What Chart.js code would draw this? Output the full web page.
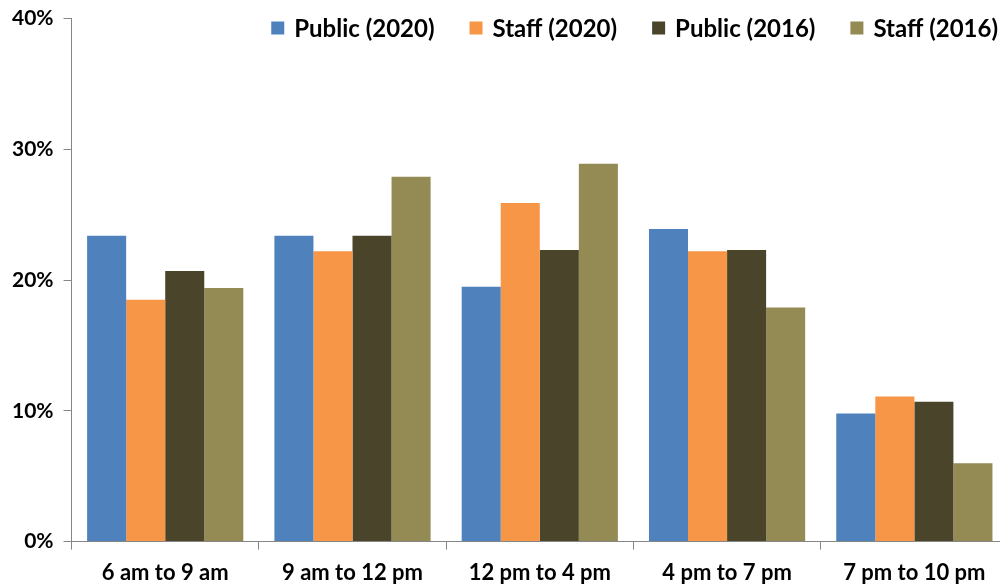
<!DOCTYPE html>
<html>
<head>
<meta charset="utf-8">
<script src="https://cdn.jsdelivr.net/npm/chart.js@4"></script>
<style>
  html, body { margin: 0; padding: 0; background: #fff; overflow: hidden; }
  #wrap { width: 1010px; height: 593px; margin-top: -4px; }
</style>
</head>
<body>
<div id="wrap"><canvas id="timeChart"></canvas></div>
<script>
// Time slots
const slots = ['6 am to 9 am', '9 am to 12 pm', '12 pm to 4 pm', '4 pm to 7 pm', '7 pm to 10 pm'];

// Share of visits (%)
const public2020 = [23.4, 23.4, 19.5, 23.9, 9.8];
const staff2020 = [18.5, 22.2, 25.9, 22.2, 11.1];
const public2016 = [20.7, 23.4, 22.3, 22.3, 10.7];
const staff2016 = [19.4, 27.9, 28.9, 17.9, 6.0];

const yTicks = [0, 10, 20, 30, 40];

const fam = 'Lato, "Open Sans", sans-serif';

// legend drawn inside the plot, top right (like the original)
const insideLegend = {
    id: 'insideLegend',
    afterDraw(chart) {
        const ctx = chart.ctx;
        const sets = chart.data.datasets;
        const box = 13, gapText = 10, gapItem = 35, yMid = 32; // +4 for the wrapper shift
        ctx.save();
        ctx.font = 'bold 24px ' + fam;
        ctx.textBaseline = 'middle';
        let x = 998;
        for (let i = sets.length - 1; i >= 0; i--) {
            const w = ctx.measureText(sets[i].label).width;
            x -= w;
            ctx.fillStyle = '#000';
            ctx.fillText(sets[i].label, x, yMid + 1);
            x -= gapText + box;
            ctx.fillStyle = sets[i].backgroundColor;
            ctx.fillRect(x, yMid - box / 2, box, box);
            x -= gapItem;
        }
        ctx.restore();
    }
};

new Chart(document.getElementById('timeChart'), {
    type: 'bar',
    data: {
        labels: slots,
        datasets: [
            { label: 'Public (2020)', data: public2020, backgroundColor: '#4F81BD' },
            { label: 'Staff (2020)', data: staff2020, backgroundColor: '#F79646' },
            { label: 'Public (2016)', data: public2016, backgroundColor: '#4A452A' },
            { label: 'Staff (2016)', data: staff2016, backgroundColor: '#948A54' }
        ]
    },
    plugins: [insideLegend],
    options: {
        responsive: true,
        maintainAspectRatio: false,
        animation: false,
        layout: { padding: { top: -12, left: 2, right: 2, bottom: -7 } },
        datasets: { bar: { categoryPercentage: 0.834, barPercentage: 1.0 } },
        plugins: {
            legend: { display: false },
            tooltip: { enabled: false }
        },
        scales: {
            x: {
                grid: { display: true, offset: true, drawOnChartArea: false, tickLength: 8, color: '#868686' },
                border: { color: '#868686' },
                ticks: { font: { family: fam, weight: 'bold', size: 22 }, color: '#000', padding: 10 }
            },
            y: {
                min: 0,
                max: 40,
                afterBuildTicks: axis => { axis.ticks = yTicks.map(v => ({ value: v })); },
                grid: { display: true, drawOnChartArea: false, tickLength: 8, color: '#868686' },
                border: { color: '#868686' },
                ticks: { font: { family: fam, weight: 'bold', size: 21 }, color: '#000', padding: 10, callback: v => v + '%' }
            }
        }
    }
});
</script>
</body>
</html>
